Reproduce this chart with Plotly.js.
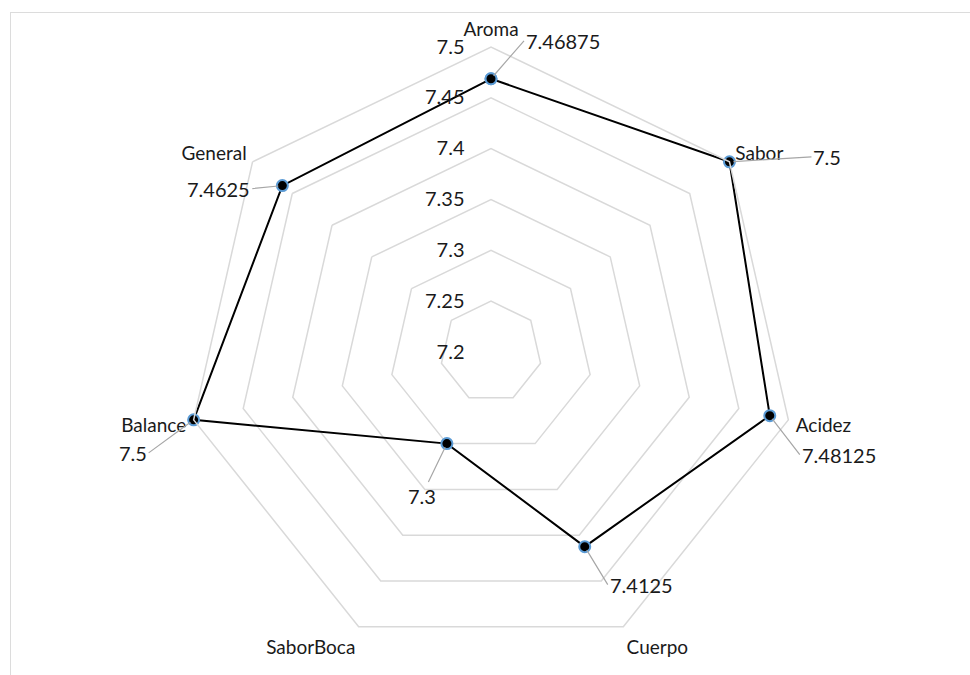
<!DOCTYPE html>
<html><head><meta charset="utf-8">
<script src="https://cdn.plot.ly/plotly-3.0.1.min.js"></script>
<style>
html,body{margin:0;padding:0;background:#fff;overflow:hidden}
#chart{position:absolute;left:0;top:0;width:970px;height:675px}
#frame{position:absolute;left:10px;top:12px;width:990px;height:700px;border-left:1px solid #dcdcdc;border-top:1px solid #dcdcdc;pointer-events:none}
</style></head><body>
<div id="chart"></div><div id="frame"></div>
<script>
// ---- data ----
const categories = ['Aroma', 'Sabor', 'Acidez', 'Cuerpo', 'SaborBoca', 'Balance', 'General'];
const values = [7.46875, 7.5, 7.48125, 7.4125, 7.3, 7.5, 7.4625];
const valueLabels = ['7.46875', '7.5', '7.48125', '7.4125', '7.3', '7.5', '7.4625'];
const radialTickVals = [7.2, 7.25, 7.3, 7.35, 7.4, 7.45, 7.5];
const radialTickText = ['7.2', '7.25', '7.3', '7.35', '7.4', '7.45', '7.5'];
const radialRange = [7.2, 7.5];

// ---- label placement (style, pixels relative to each point) ----
const labelOffsets = [
  {ax: 33, ay: -38, xanchor: 'left'},
  {ax: 82, ay: -5, xanchor: 'left'},
  {ax: 30, ay: 39, xanchor: 'left'},
  {ax: 23, ay: 38, xanchor: 'left'},
  {ax: -25, ay: 52, xanchor: 'center'},
  {ax: -45, ay: 33, xanchor: 'right'},
  {ax: -30, ay: 3, xanchor: 'right'}
];

const W = 970, H = 675;
const M = {l: 12, r: 0, t: 47, b: 18};
const FONT = 'Lato, "Open Sans", sans-serif';

const closedTheta = categories.concat([categories[0]]);
const closedR = values.concat([values[0]]);

const trace = {
  type: 'scatterpolar',
  r: closedR,
  theta: closedTheta,
  mode: 'lines+markers',
  line: {color: '#000000', width: 2},
  marker: {size: 11, color: '#000000', line: {color: '#5b9bd5', width: 2}},
  hoverinfo: 'skip',
  showlegend: false
};

// polar -> paper coordinates (plot area is the polar domain)
const pw = W - M.l - M.r, ph = H - M.t - M.b;
const radius = Math.min(pw, ph) / 2;
const cx = M.l + pw / 2, cy = M.t + ph / 2;
function toPaper(v, i) {
  const th = i * 2 * Math.PI / categories.length;
  const rp = radius * (v - radialRange[0]) / (radialRange[1] - radialRange[0]);
  const px = cx + rp * Math.sin(th), py = cy - rp * Math.cos(th);
  return {x: (px - M.l) / pw, y: 1 - (py - M.t) / ph};
}

const annotations = values.map((v, i) => {
  const p = toPaper(v, i);
  const o = labelOffsets[i];
  return {
    xref: 'paper', yref: 'paper', x: p.x, y: p.y,
    text: valueLabels[i], showarrow: true, arrowhead: 0, arrowwidth: 1.2,
    arrowcolor: '#a6a6a6', ax: o.ax, ay: o.ay, xanchor: o.xanchor, yanchor: 'middle',
    standoff: 4, font: {family: FONT, size: 20, color: '#1a1a1a'}
  };
});

const layout = {
  width: W, height: H,
  margin: M,
  paper_bgcolor: '#ffffff',
  font: {family: FONT, color: '#1a1a1a'},
  showlegend: false,
  polar: {
    bgcolor: 'rgba(0,0,0,0)',
    gridshape: 'linear',
    domain: {x: [0, 1], y: [0, 1]},
    radialaxis: {
      range: radialRange,
      tickvals: radialTickVals,
      ticktext: radialTickText,
      angle: 90,
      side: 'counterclockwise',
      tickangle: 90,
      showline: false,
      ticks: 'outside',
      ticklen: 19,
      tickcolor: 'rgba(0,0,0,0)',
      gridcolor: '#d9d9d9',
      gridwidth: 1.5,
      tickfont: {family: FONT, size: 20, color: '#1a1a1a'}
    },
    angularaxis: {
      type: 'category',
      categoryarray: categories,
      rotation: 90,
      direction: 'clockwise',
      showgrid: false,
      showline: true,
      linecolor: '#d9d9d9',
      linewidth: 1.5,
      ticks: 'outside',
      ticklen: 3,
      tickcolor: 'rgba(0,0,0,0)',
      tickfont: {family: FONT, size: 19, color: '#1a1a1a'}
    }
  },
  annotations: annotations
};

Plotly.newPlot('chart', [trace], layout, {displayModeBar: false, staticPlot: true});
</script>
</body></html>
